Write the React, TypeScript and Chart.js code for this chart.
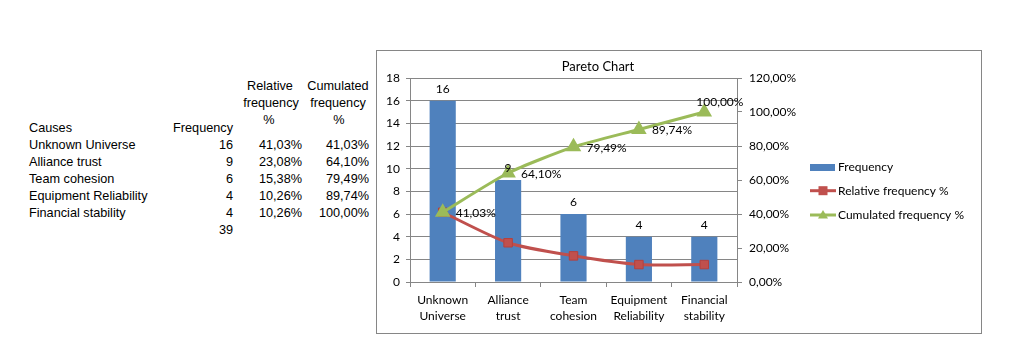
import React, { useEffect, useRef } from "react";
import { Chart, registerables } from "chart.js";

Chart.register(...registerables);

const causes = ["Unknown Universe", "Alliance trust", "Team cohesion", "Equipment Reliability", "Financial stability"];
const categoryLabels = [["Unknown", "Universe"], ["Alliance", "trust"], ["Team", "cohesion"], ["Equipment", "Reliability"], ["Financial", "stability"]];
const frequency = [16, 9, 6, 4, 4];
const relativePct = [41.03, 23.08, 15.38, 10.26, 10.26];
const cumulatedPct = [41.03, 64.1, 79.49, 89.74, 100.0];
const totalFrequency = 39;
const seriesNames = ["Frequency", "Relative frequency %", "Cumulated frequency %"];
const chartTitle = "Pareto Chart";

const fmtPct = (v: number) => v.toFixed(2).replace(".", ",") + "%";

const BLUE = "#4F81BD";
const RED = "#C0504D";
const GREEN = "#9BBB59";
const AXIS = "#868686";
const FONT = "Lato, 'Open Sans', sans-serif";

const overlayPlugin = {
  id: "overlay",
  afterDatasetsDraw(chart: any) {
    const ctx = chart.ctx;
    const area = chart.chartArea;
    ctx.save();
    ctx.fillStyle = "#000";
    ctx.font = `12px ${FONT}`;
    ctx.textBaseline = "middle";
    // bar labels
    const barMeta = chart.getDatasetMeta(0);
    ctx.textAlign = "center";
    barMeta.data.forEach((el: any, i: number) => {
      ctx.fillText(String(frequency[i]), el.x, el.y - 12);
    });
    // cumulated labels
    const cumMeta = chart.getDatasetMeta(2);
    ctx.textAlign = "left";
    cumMeta.data.forEach((el: any, i: number) => {
      const t = fmtPct(cumulatedPct[i]);
      const w = ctx.measureText(t).width;
      let x = el.x + 13;
      let y = el.y + 1;
      if (x + w > area.right + 6) {
        x = el.x - 8;
        y = el.y - 10;
      }
      ctx.fillText(t, x, y);
    });
    ctx.restore();
  },
  afterDraw(chart: any) {
    const ctx = chart.ctx;
    ctx.save();
    ctx.fillStyle = "#000";
    ctx.font = `13px ${FONT}`;
    ctx.textAlign = "center";
    ctx.textBaseline = "middle";
    ctx.fillText(chartTitle, 221, 16);
    // legend
    ctx.font = `12px ${FONT}`;
    ctx.textAlign = "left";
    const lx = 433;
    const tx = 461;
    const ys = [116.5, 139.7, 164];
    ctx.fillStyle = BLUE;
    ctx.fillRect(lx, ys[0] - 3.5, 25, 7);
    // red
    ctx.strokeStyle = RED;
    ctx.lineWidth = 3;
    ctx.beginPath();
    ctx.moveTo(lx, ys[1]);
    ctx.lineTo(lx + 26, ys[1]);
    ctx.stroke();
    ctx.fillStyle = RED;
    ctx.fillRect(lx + 13 - 4.5, ys[1] - 4.5, 9, 9);
    // green
    ctx.strokeStyle = GREEN;
    ctx.beginPath();
    ctx.moveTo(lx, ys[2]);
    ctx.lineTo(lx + 26, ys[2]);
    ctx.stroke();
    ctx.fillStyle = GREEN;
    ctx.beginPath();
    ctx.moveTo(lx + 13, ys[2] - 5);
    ctx.lineTo(lx + 18, ys[2] + 3.5);
    ctx.lineTo(lx + 8, ys[2] + 3.5);
    ctx.closePath();
    ctx.fill();
    ctx.fillStyle = "#000";
    seriesNames.forEach((n, i) => ctx.fillText(n, tx, ys[i]));
    ctx.restore();
  },
};

function ParetoChart() {
  const ref = useRef<HTMLCanvasElement>(null);
  useEffect(() => {
    if (!ref.current) return;
    const tickFont = { family: FONT, size: 12 };
    const chart = new Chart(ref.current, {
      type: "bar",
      data: {
        labels: categoryLabels as any,
        datasets: [
          {
            type: "bar",
            label: seriesNames[0],
            data: frequency,
            backgroundColor: BLUE,
            yAxisID: "y",
            order: 3,
            barPercentage: 0.4,
            categoryPercentage: 1,
          } as any,
          {
            type: "line",
            label: seriesNames[1],
            data: relativePct,
            yAxisID: "y1",
            borderColor: RED,
            backgroundColor: RED,
            pointBorderColor: "#B5403D",
            pointBorderWidth: 1,
            borderWidth: 3,
            pointStyle: "rect",
            pointRadius: 6,
            tension: 0.25,
            order: 2,
          },
          {
            type: "line",
            label: seriesNames[2],
            data: cumulatedPct,
            yAxisID: "y1",
            borderColor: GREEN,
            backgroundColor: GREEN,
            borderWidth: 3,
            pointStyle: "triangle",
            pointRadius: 6,
            tension: 0.2,
            order: 1,
          },
        ],
      },
      options: {
        responsive: false,
        animation: false,
        layout: { padding: { top: 27, left: 0, right: 0, bottom: 0 } },
        plugins: { legend: { display: false }, tooltip: { enabled: false }, title: { display: false } },
        scales: {
          x: {
            grid: { offset: true, drawOnChartArea: false, tickLength: 5, color: AXIS },
            border: { color: AXIS },
            ticks: { font: { family: FONT, size: 12, lineHeight: 1.35 }, color: "#000", padding: 5 },
            afterFit: (s: any) => {
              s.height = 51;
            },
          },
          y: {
            position: "left",
            min: 0,
            max: 18,
            ticks: { stepSize: 2, font: tickFont, color: "#000", padding: 6 },
            grid: { color: AXIS, tickLength: 4 },
            border: { color: AXIS },
            afterFit: (s: any) => {
              s.width = 33;
            },
          },
          y1: {
            position: "right",
            min: 0,
            max: 120,
            ticks: { stepSize: 20, font: tickFont, color: "#000", padding: 7, callback: (v: any) => fmtPct(Number(v)) },
            grid: { drawOnChartArea: false, tickLength: 5, color: AXIS },
            border: { color: AXIS },
            afterFit: (s: any) => {
              s.width = 244;
            },
          },
        },
      },
      plugins: [overlayPlugin],
    });
    return () => chart.destroy();
  }, []);
  return <canvas ref={ref} width={604} height={282} style={{ display: "block", width: 604, height: 282 }} />;
}

const cellFont: React.CSSProperties = {
  position: "absolute",
  fontFamily: "'Liberation Sans', Arial, sans-serif",
  fontSize: "12.7px",
  lineHeight: "17px",
  color: "#000",
  whiteSpace: "nowrap",
};

function Txt({ x, cy, align, children }: { x: number; cy: number; align: "left" | "right" | "center"; children: React.ReactNode }) {
  const style: React.CSSProperties = { ...cellFont, top: cy - 8.5 };
  if (align === "left") style.left = x;
  else if (align === "right") style.right = 1020 - x;
  else {
    style.left = x - 60;
    style.width = 120;
    style.textAlign = "center";
  }
  return <div style={style}>{children}</div>;
}

export default function App() {
  const rowY = (i: number) => 145 + i * 17;
  return (
    <div style={{ position: "fixed", left: 0, top: 0, width: 1020, height: 358, background: "#fff", overflow: "hidden" }}>
      <Txt x={270} cy={86} align="center">Relative</Txt>
      <Txt x={271} cy={103} align="center">frequency</Txt>
      <Txt x={269} cy={120} align="center">%</Txt>
      <Txt x={338} cy={86} align="center">Cumulated</Txt>
      <Txt x={338} cy={103} align="center">frequency</Txt>
      <Txt x={339} cy={120} align="center">%</Txt>
      <Txt x={29} cy={128} align="left">Causes</Txt>
      <Txt x={233} cy={128} align="right">Frequency</Txt>
      {causes.map((c, i) => (
        <React.Fragment key={c}>
          <Txt x={29} cy={rowY(i)} align="left">{c}</Txt>
          <Txt x={233} cy={rowY(i)} align="right">{frequency[i]}</Txt>
          <Txt x={302} cy={rowY(i)} align="right">{fmtPct(relativePct[i])}</Txt>
          <Txt x={369} cy={rowY(i)} align="right">{fmtPct(cumulatedPct[i])}</Txt>
        </React.Fragment>
      ))}
      <Txt x={233} cy={rowY(causes.length)} align="right">{totalFrequency}</Txt>
      <div style={{ position: "absolute", left: 376, top: 50, width: 604, height: 282, border: `1px solid ${AXIS}` }}>
        <ParetoChart />
      </div>
    </div>
  );
}
